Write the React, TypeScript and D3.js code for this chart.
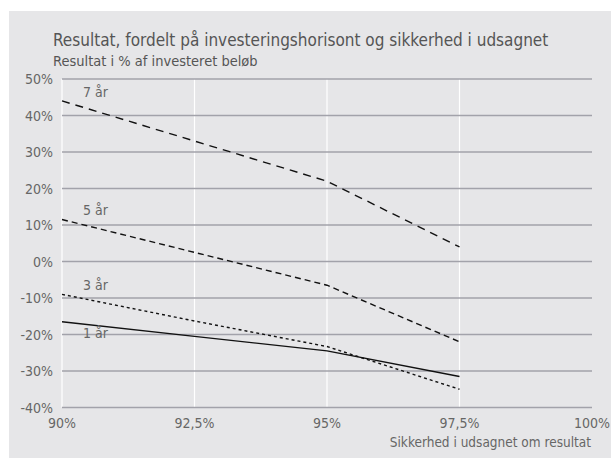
import React from "react";
import * as d3 from "d3";

const categories = [90, 92.5, 95, 97.5];
const xTicks = [90, 92.5, 95, 97.5, 100];
const xTickLabels = ["90%", "92,5%", "95%", "97,5%", "100%"];
const yTicks = [50, 40, 30, 20, 10, 0, -10, -20, -30, -40];
const seriesNames = ["7 år", "5 år", "3 år", "1 år"];
const values7 = [44, 33, 22, 4];
const values5 = [11.5, 2.5, -6.5, -22];
const values3 = [-9, -16.3, -23.3, -35];
const values1 = [-16.5, -20.5, -24.5, -31.5];

const series = [
  { name: seriesNames[0], values: values7, dash: "8,6", labelVal: 46.5 },
  { name: seriesNames[1], values: values5, dash: "6,4", labelVal: 14 },
  { name: seriesNames[2], values: values3, dash: "3,3", labelVal: -6.5 },
  { name: seriesNames[3], values: values1, dash: "", labelVal: -19.5 },
];

const FONT = "'Liberation Sans Narrow', 'DejaVu Sans Condensed', 'Liberation Sans', sans-serif";

export default function App() {
  const W = 611, H = 458;
  const x = d3.scaleLinear().domain([90, 100]).range([62, 592]);
  const y = d3.scaleLinear().domain([-40, 50]).range([407.5, 79]);
  const line = d3.line<number>().x((_, i) => x(categories[i])).y((d) => y(d));
  return (
    <svg width={W} height={H} style={{ position: "absolute", left: 0, top: 0 }} fontFamily={FONT}>
      <rect x={9} y={11} width={W - 9} height={H - 11} fill="#e6e6e8" />
      <text x={53} y={46} fontSize={17} fill="#555">Resultat, fordelt på investeringshorisont og sikkerhed i udsagnet</text>
      <text x={53} y={66} fontSize={14.5} fill="#555">Resultat i % af investeret beløb</text>
      {xTicks.slice(0, 4).map((t) => (
        <line key={"v" + t} x1={x(t)} x2={x(t)} y1={y(50)} y2={y(-40)} stroke="#fff" strokeWidth={1.2} />
      ))}
      {yTicks.map((t) => (
        <text key={"yl" + t} x={53} y={y(t) + 5} textAnchor="end" fontSize={14} fill="#666">{t + "%"}</text>
      ))}
      {yTicks.map((t) => (
        <line key={"h" + t} x1={x(90)} x2={x(100)} y1={y(t)} y2={y(t)} stroke="#a2a2aa" strokeWidth={1.3} />
      ))}
      {xTicks.map((t, i) => (
        <text key={"xl" + t} x={x(t)} y={428} textAnchor="middle" fontSize={14} fill="#666">{xTickLabels[i]}</text>
      ))}
      <text x={591} y={447} textAnchor="end" fontSize={13.5} fill="#666">Sikkerhed i udsagnet om resultat</text>
      {series.map((s) => (
        <path key={s.name} d={line(s.values) || ""} fill="none" stroke="#111" strokeWidth={1.4} strokeDasharray={s.dash || undefined} />
      ))}
      {series.map((s) => (
        <text key={"lb" + s.name} x={83} y={y(s.labelVal) + 5} fontSize={14} fill="#666">{s.name}</text>
      ))}
    </svg>
  );
}
